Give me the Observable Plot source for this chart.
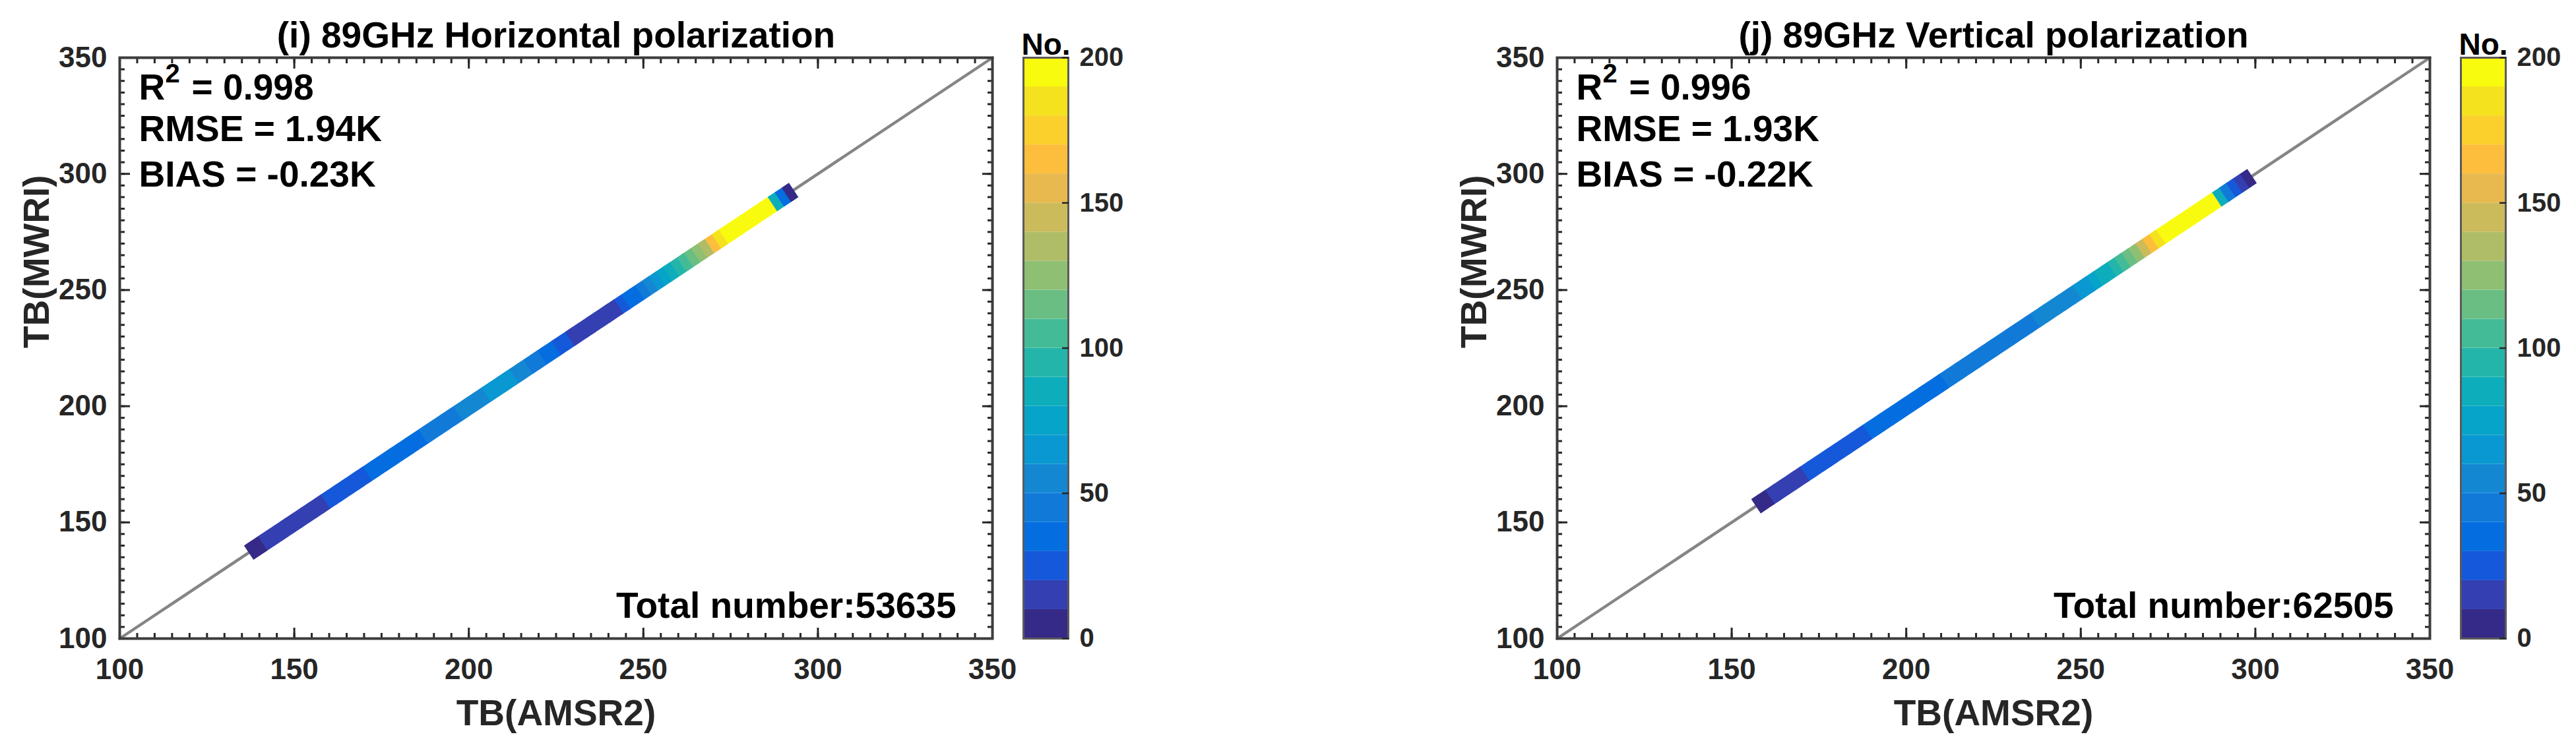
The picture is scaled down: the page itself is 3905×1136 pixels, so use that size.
<!DOCTYPE html>
<html>
<head>
<meta charset="utf-8">
<script src="https://cdn.jsdelivr.net/npm/d3@7"></script>
<script src="https://cdn.jsdelivr.net/npm/@observablehq/plot@0.6"></script>
<style>
  html, body { margin: 0; padding: 0; background: #fff; }
  #root { position: relative; width: 3905px; height: 1136px; overflow: hidden; background: #fff; }
  #root svg { position: absolute; top: 0; }
</style>
</head>
<body>
<div id="root"></div>
<script>
// ---------------- data ----------------
const titles = ["(i) 89GHz Horizontal polarization", "(j) 89GHz Vertical polarization"];
const r2Values = ["0.998", "0.996"];
const rmseValues = ["1.94K", "1.93K"];
const biasValues = ["-0.23K", "-0.22K"];
const totalNumbers = [53635, 62505];
const xTitle = "TB(AMSR2)";
const yTitle = "TB(MWRI)";
const colorbarTitle = "No.";
const axisTicks = [100, 150, 200, 250, 300, 350];
const colorbarTicks = [0, 50, 100, 150, 200];
const oneToOne = [100, 350];

// 89 GHz H-pol: brightness-temperature bins (K) and point counts per bin
const tbH = [138,140,142,144,146,148,150,152,154,156,158,160,162,164,166,168,170,172,174,176,
             178,180,182,184,186,188,190,192,194,196,198,200,202,204,206,208,210,212,214,216,
             218,220,222,224,226,228,230,232,234,236,238,240,242,244,246,248,250,252,254,256,
             258,260,262,264,266,268,270,272,274,276,278,280,282,284,286,288,290,292];
const countH = [4,8,10,12,14,15,16,17,18,18,19,20,22,24,25,27,28,30,31,32,
                34,35,36,37,38,40,42,44,46,48,50,52,55,58,61,63,64,62,58,52,
                46,40,35,31,27,22,19,17,16,15,15,17,19,24,30,38,46,56,66,78,
                88,97,106,114,125,138,165,182,195,200,200,200,200,200,198,80,30,8];

// 89 GHz V-pol
const tbV = [158,160,162,164,166,168,170,172,174,176,178,180,182,184,186,188,190,192,194,196,
             198,200,202,204,206,208,210,212,214,216,218,220,222,224,226,228,230,232,234,236,
             238,240,242,244,246,248,250,252,254,256,258,260,262,264,266,268,270,272,274,276,
             278,280,282,284,286,288,290,292,294,296,298];
const countV = [4,8,10,12,14,16,18,20,21,22,24,25,26,27,28,29,30,31,32,33,
                34,35,36,37,38,38,39,40,40,41,42,42,43,43,44,44,44,45,47,49,
                51,53,52,51,53,56,60,66,72,80,88,96,104,112,125,145,168,185,196,200,
                200,200,200,200,200,200,85,40,20,10,5];

// parula(20)
const parula20 = ["#352A87","#343FB1","#1558DA","#046DE0","#117AD9","#1487D3","#0998D1","#06A4C9",
                  "#0DADBB","#24B5AA","#44BB97","#6ABE83","#8FBF73","#AFBD67","#CCBB5B","#E7B94F",
                  "#FDBE3D","#FBD02C","#F5E21E","#F9FB0E"];

// ---------------- layout ----------------
const FONT = "'Liberation Sans', Arial, Helvetica, sans-serif";
const panelOffsets = [0, 2179];
const colorOpts = {type: "threshold", domain: d3.range(10, 200, 10), range: parula20};
const minorTicks = d3.range(100, 351, 5);
const blank = () => "";

function mainPlot(i, tb, counts) {
  const band = tb.map((t, k) => ({tb: t, count: counts[k]}));
  const txt = (o) => ({fontFamily: FONT, fontWeight: "bold", fontSize: 55, fill: "#000", text: d => d, lineAnchor: "middle", ...o});
  return Plot.plot({
    width: 1544, height: 1136,
    marginLeft: 181, marginRight: 40, marginTop: 87, marginBottom: 168,
    x: {domain: [100, 350]},
    y: {domain: [100, 350]},
    color: colorOpts,
    style: {fontFamily: FONT, fontWeight: "bold", fontSize: "44px", color: "#262626", background: "transparent", overflow: "visible"},
    marks: [
      Plot.line(oneToOne, {x: d => d, y: d => d, stroke: "#858585", strokeWidth: 4.5}),
      Plot.link(band, {x1: d => d.tb - 1.05, y1: d => d.tb - 1.05, x2: d => d.tb + 1.05, y2: d => d.tb + 1.05,
                       stroke: d => d.count, strokeWidth: 26}),
      // minor ticks (inward) on all sides
      Plot.axisX(minorTicks, {anchor: "bottom", tickSize: -8, tickFormat: blank, strokeWidth: 3, label: null}),
      Plot.axisX(minorTicks, {anchor: "top", tickSize: -8, tickFormat: blank, strokeWidth: 3, label: null}),
      Plot.axisY(minorTicks, {anchor: "left", tickSize: -8, tickFormat: blank, strokeWidth: 3, label: null}),
      Plot.axisY(minorTicks, {anchor: "right", tickSize: -8, tickFormat: blank, strokeWidth: 3, label: null}),
      // major ticks with labels
      Plot.axisX(axisTicks, {anchor: "bottom", tickSize: -16, tickPadding: 46, strokeWidth: 3, label: null, fontSize: 44}),
      Plot.axisX(axisTicks, {anchor: "top", tickSize: -16, tickFormat: blank, strokeWidth: 3, label: null}),
      Plot.axisY(axisTicks, {anchor: "left", tickSize: -16, tickPadding: 35, strokeWidth: 3, label: null, fontSize: 44}),
      Plot.axisY(axisTicks, {anchor: "right", tickSize: -16, tickFormat: blank, strokeWidth: 3, label: null}),
      Plot.frame({stroke: "#3c3c3c", strokeWidth: 4}),
      // texts
      Plot.text([titles[i]], txt({frameAnchor: "top", dy: -33})),
      Plot.text(["R"], txt({frameAnchor: "top-left", textAnchor: "start", dx: 29, dy: 46})),
      Plot.text(["2"], txt({frameAnchor: "top-left", textAnchor: "start", dx: 69, dy: 25, fontSize: 40})),
      Plot.text(["= " + r2Values[i]], txt({frameAnchor: "top-left", textAnchor: "start", dx: 109, dy: 46})),
      Plot.text(["RMSE = " + rmseValues[i]], txt({frameAnchor: "top-left", textAnchor: "start", dx: 29, dy: 109})),
      Plot.text(["BIAS = " + biasValues[i]], txt({frameAnchor: "top-left", textAnchor: "start", dx: 29, dy: 178})),
      Plot.text(["Total number:" + totalNumbers[i]], txt({frameAnchor: "bottom-right", textAnchor: "end", dx: -55, dy: -49})),
      Plot.text([xTitle], txt({frameAnchor: "bottom", dy: 114, fill: "#262626"})),
      Plot.text([yTitle], txt({frameAnchor: "left", rotate: -90, dx: -125, fill: "#262626"}))
    ]
  });
}

function colorbarPlot() {
  const bins = d3.range(0, 200, 10);
  return Plot.plot({
    width: 178, height: 1136,
    marginLeft: 10, marginRight: 100, marginTop: 87, marginBottom: 168,
    x: {domain: [0, 1], axis: null},
    y: {domain: [0, 200], axis: null},
    color: colorOpts,
    style: {fontFamily: FONT, fontWeight: "bold", fontSize: "40px", color: "#262626", background: "transparent", overflow: "visible"},
    marks: [
      Plot.rect(bins, {x1: 0, x2: 1, y1: d => d, y2: d => d + 10, fill: d => d + 5}),
      Plot.frame({stroke: "#5a5a5a", strokeWidth: 3}),
      Plot.axisY(colorbarTicks, {anchor: "right", tickSize: -10, tickPadding: 27, strokeWidth: 2.5, label: null, fontSize: 40}),
      Plot.text([colorbarTitle], {frameAnchor: "top-left", textAnchor: "start", lineAnchor: "middle", text: d => d,
                                  dx: -3, dy: -19, fontSize: 46, fontWeight: "bold", fontFamily: FONT, fill: "#000"})
    ]
  });
}

const root = document.getElementById("root");
const series = [[tbH, countH], [tbV, countV]];
series.forEach(([tb, counts], i) => {
  const p = mainPlot(i, tb, counts);
  p.style.left = panelOffsets[i] + "px";
  root.appendChild(p);
  const cb = colorbarPlot();
  cb.style.left = (panelOffsets[i] + 1541) + "px";
  root.appendChild(cb);
});
</script>
</body>
</html>
